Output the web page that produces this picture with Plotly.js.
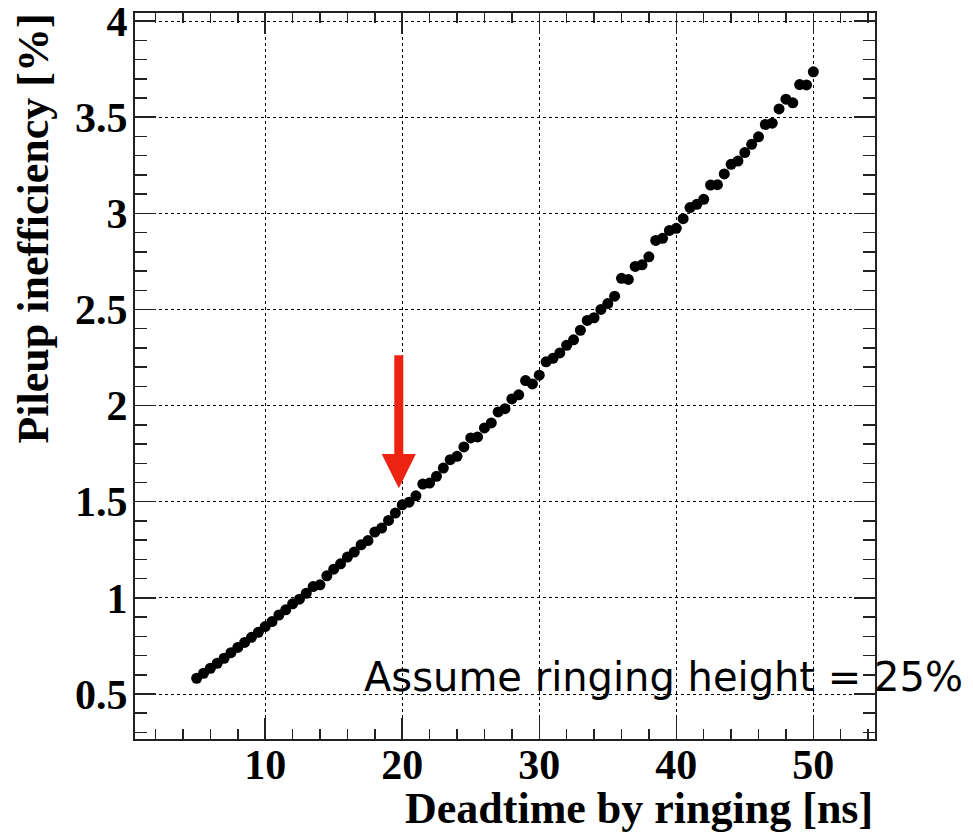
<!DOCTYPE html>
<html>
<head>
<meta charset="utf-8">
<script src="https://cdn.plot.ly/plotly-3.0.1.min.js"></script>
<style>
  html, body { margin: 0; padding: 0; background: #fff; }
  #chart { width: 973px; height: 834px; }
</style>
</head>
<body>
<div id="chart"></div>
<script>
// Deadtime by ringing [ns]
const deadtime = [
  5, 5.5, 6, 6.5, 7, 7.5, 8, 8.5, 9, 9.5,
  10, 10.5, 11, 11.5, 12, 12.5, 13, 13.5, 14, 14.5,
  15, 15.5, 16, 16.5, 17, 17.5, 18, 18.5, 19, 19.5,
  20, 20.5, 21, 21.5, 22, 22.5, 23, 23.5, 24, 24.5,
  25, 25.5, 26, 26.5, 27, 27.5, 28, 28.5, 29, 29.5,
  30, 30.5, 31, 31.5, 32, 32.5, 33, 33.5, 34, 34.5,
  35, 35.5, 36, 36.5, 37, 37.5, 38, 38.5, 39, 39.5,
  40, 40.5, 41, 41.5, 42, 42.5, 43, 43.5, 44, 44.5,
  45, 45.5, 46, 46.5, 47, 47.5, 48, 48.5, 49, 49.5,
  50
];
// Pileup inefficiency [%]
const inefficiency = [
  0.582, 0.608, 0.634, 0.660, 0.686, 0.715, 0.742, 0.768, 0.795, 0.821,
  0.851, 0.877, 0.911, 0.938, 0.969, 0.993, 1.024, 1.059, 1.068, 1.115,
  1.149, 1.177, 1.212, 1.238, 1.276, 1.298, 1.342, 1.363, 1.403, 1.441,
  1.484, 1.498, 1.531, 1.592, 1.597, 1.632, 1.675, 1.719, 1.736, 1.785,
  1.832, 1.837, 1.884, 1.910, 1.967, 1.984, 2.035, 2.056, 2.130, 2.113,
  2.158, 2.228, 2.246, 2.274, 2.314, 2.342, 2.392, 2.443, 2.457, 2.500,
  2.531, 2.569, 2.662, 2.656, 2.724, 2.732, 2.774, 2.859, 2.870, 2.911,
  2.922, 2.972, 3.030, 3.047, 3.073, 3.147, 3.149, 3.205, 3.255, 3.272,
  3.316, 3.359, 3.398, 3.462, 3.469, 3.543, 3.594, 3.575, 3.670, 3.668,
  3.736
];
// Arrow marking the chosen deadtime
const arrowX = 19.75;
const arrowFromY = 2.27;
const arrowToY = 1.57;

const xTitle = "Deadtime by ringing [ns]";
const yTitle = "Pileup inefficiency [%]";
const note = "Assume ringing height = 25%";

const xRange = [0.5, 54.5];
const yRange = [0.266, 4.042];

const serif = "Liberation Serif, Times New Roman, serif";
const tickFont = { family: serif, size: 42, color: "#000", weight: "bold" };

const trace = {
  type: "scatter",
  mode: "markers",
  x: deadtime,
  y: inefficiency,
  marker: { color: "#000", size: 11, line: { width: 0 } },
  hoverinfo: "x+y",
  showlegend: false
};

const axisCommon = {
  showline: true,
  linecolor: "#222",
  linewidth: 2,
  mirror: "allticks",
  ticks: "inside",
  tickcolor: "#222",
  tickwidth: 1.5,
  ticklen: 21,
  showgrid: true,
  gridcolor: "#000",
  gridwidth: 1,
  griddash: "dot",
  zeroline: false,
  tickfont: tickFont,
  ticklabeloverflow: "allow",
  fixedrange: true
};

const layout = {
  width: 973,
  height: 834,
  margin: { l: 135, r: 98, t: 13, b: 95 },
  paper_bgcolor: "#fff",
  plot_bgcolor: "#fff",
  showlegend: false,
  xaxis: Object.assign({}, axisCommon, {
    range: xRange,
    tick0: 0,
    dtick: 10,
    ticklabelstandoff: -12,
    minor: { ticks: "inside", dtick: 2, tick0: 0, ticklen: 10, tickcolor: "#222", tickwidth: 1.5, showgrid: false }
  }),
  yaxis: Object.assign({}, axisCommon, {
    range: yRange,
    tick0: 0,
    dtick: 0.5,
    ticklabelstandoff: -3,
    minor: { ticks: "inside", dtick: 0.1, tick0: 0, ticklen: 12, tickcolor: "#222", tickwidth: 1.5, showgrid: false }
  }),
  annotations: [
    {
      xref: "x", yref: "y", axref: "x", ayref: "y",
      x: arrowX, y: arrowToY, ax: arrowX, ay: arrowFromY,
      text: "", showarrow: true,
      arrowhead: 2, arrowsize: 0.76, arrowwidth: 9, arrowcolor: "#ee2211",
      standoff: 0, startstandoff: 0
    },
    {
      xref: "paper", yref: "paper",
      x: 1, y: -0.059, xanchor: "right", yanchor: "top",
      text: xTitle, showarrow: false,
      font: { family: serif, size: 44, color: "#000", weight: "bold" }
    },
    {
      xref: "paper", yref: "paper",
      x: -0.1365, y: 1.002, xanchor: "center", yanchor: "top",
      textangle: -90,
      text: yTitle, showarrow: false,
      font: { family: serif, size: 44, color: "#000", weight: "bold" }
    },
    {
      xref: "paper", yref: "paper",
      x: 0.3068, y: 0.085, xanchor: "left", yanchor: "middle",
      text: note, showarrow: false,
      font: { family: "DejaVu Sans, sans-serif", size: 40, color: "#000" }
    }
  ]
};

Plotly.newPlot("chart", [trace], layout, { displayModeBar: false, staticPlot: true });
</script>
</body>
</html>
